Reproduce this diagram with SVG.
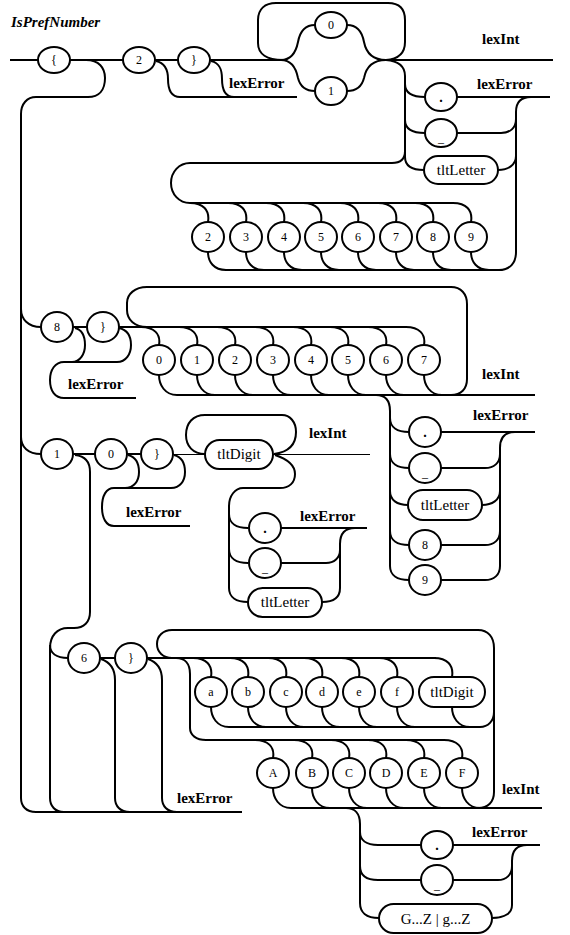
<svg xmlns="http://www.w3.org/2000/svg" width="570" height="935" viewBox="0 0 570 935">
<style>
.w{fill:none;stroke:#000;stroke-width:2}
.th{fill:none;stroke:#000;stroke-width:1}
.n ellipse,.n rect{fill:#fff;stroke:#000;stroke-width:2}
text{fill:#000}
.d{font-family:"Liberation Serif",serif;font-size:12px;text-anchor:middle}
.p{font-family:"Liberation Serif",serif;font-size:14px;font-weight:bold;text-anchor:middle}
.nt{font-family:"Liberation Serif",serif;font-size:15px;text-anchor:middle}
.lb{font-family:"Liberation Serif",serif;font-size:15px;font-weight:bold}
.ti{font-family:"Liberation Serif",serif;font-size:15px;font-weight:bold;font-style:italic}
</style>
<rect width="570" height="935" fill="#fff"/>
<text class="ti" x="11" y="27">IsPrefNumber</text>
<g id="connectors">
<path class="w" d="M10,60 H38 M70,60 H123 M155,60 H178 M210,60 H283"/>
<path class="w" d="M156,61 C165,63 168,70 168,79 C168,90 171,97 180,97 H297"/>
<path class="w" d="M211,61 C220,63 222,70 222,79 C222,90 225,97 234,97"/>
<path class="w" d="M86,60 C99,60 105,68 105,78 C105,90 99,97 88,97 H36 C27,97 21,104 21,114 V798 C21,806 26,812 36,812 H242"/>
<path class="w" d="M281,60 C292,60 296,52 298,42 C300,31 305,25 315,25"/>
<path class="w" d="M281,60 C292,60 296,68 298,78 C300,86 305,91 315,91"/>
<path class="w" d="M347,25 C357,25 362,31 364,42 C366,52 372,60 386,60"/>
<path class="w" d="M347,91 C357,91 362,86 364,78 C366,68 372,60 386,60"/>
<path class="w" d="M283,60 C267,60 258,54 258,43 V20 C258,9 265,3 276,3 H388 C399,3 405,9 405,20 V42 C405,53 399,59 386,60"/>
<path class="w" d="M386,60 H553"/>
<path class="w" d="M386,60 C398,61 405,66 405,76 V158 M405,151 C405,159 400,163 392,163 H190 C179,163 171,172 171,183 C171,194 179,203 190,203 H453"/>
<path class="w" d="M405,84 C405,92 411,97 425,97 M405,120 C405,128 411,133 425,133 M405,157 C405,165 411,170 424,170"/>
<path class="w" d="M457,97 H550"/>
<path class="w" d="M531,97 C521,97 516,102 516,112 V252 C516,263 510,270 499,270 H226"/>
<path class="w" d="M457,133 H501 C510,133 516,128 516,119 M498,170 C508,170 516,165 516,156"/>
<path class="w" d="M190,203 C203,203 210,210 208,222 M208,252 C208,262 214,270 226,270 M228,203 C241,203 248,210 246,222 M246,252 C246,262 252,270 264,270 M266,203 C279,203 286,210 284,222 M284,252 C284,262 290,270 302,270 M303,203 C316,203 323,210 321,222 M321,252 C321,262 327,270 339,270 M340,203 C353,203 360,210 358,222 M358,252 C358,262 364,270 376,270 M378,203 C391,203 398,210 396,222 M396,252 C396,262 402,270 414,270 M415,203 C428,203 435,210 433,222 M433,252 C433,262 439,270 451,270 M453,203 C466,203 473,210 471,222 M471,252 C471,262 477,270 489,270"/>
<path class="w" d="M21,309 C21,319 28,327 41,327 M73,327 H87"/>
<path class="w" d="M75,328 C83,330 85,337 85,345 C85,354 80,362 72,362"/>
<path class="w" d="M119,328 C128,330 131,337 131,345 C131,354 126,362 117,362 H64 C55,362 50,370 50,380 C50,391 55,398 64,398 H136"/>
<path class="w" d="M119,327 H406"/>
<path class="w" d="M147,327 C135,327 127,320 127,310 V303 C127,294 135,287 147,287 H451 C461,287 467,294 467,304 V379 C467,389 461,395 451,395"/>
<path class="w" d="M141,327 C154,327 161,334 159,345 M159,375 C159,385 165,395 177,395 M179,327 C192,327 199,334 197,345 M197,375 C197,385 203,395 215,395 M217,327 C230,327 237,334 235,345 M235,375 C235,385 241,395 253,395 M255,327 C268,327 275,334 273,345 M273,375 C273,385 279,395 291,395 M293,327 C306,327 313,334 311,345 M311,375 C311,385 317,395 329,395 M330,327 C343,327 350,334 348,345 M348,375 C348,385 354,395 366,395 M368,327 C381,327 388,334 386,345 M386,375 C386,385 392,395 404,395 M406,327 C419,327 426,334 424,345 M424,375 C424,385 430,395 442,395"/>
<path class="w" d="M177,395 H535"/>
<path class="w" d="M376,395 C386,395 390,401 390,411 V566"/>
<path class="w" d="M390,418 C390,427 397,432 409,432 M390,454 C390,463 397,468 409,468 M390,491 C390,500 397,505 408,505 M390,531 C390,540 397,545 409,545 M390,566 C390,575 397,580 409,580"/>
<path class="w" d="M441,432 H535"/>
<path class="w" d="M515,432 C505,432 500,438 500,448 V566 C500,575 494,580 485,580 H441"/>
<path class="w" d="M441,468 H485 C494,468 500,463 500,454 M482,505 C492,505 500,500 500,491 M441,545 H485 C494,545 500,540 500,531"/>
<path class="w" d="M21,437 C21,447 28,454 41,454 M73,454 H95 M127,454 H141"/>
<path class="w" d="M75,455 C85,456 90,462 90,472 V612 C90,622 84,628 74,628 H68 C57,628 50,636 50,648 V798 C50,806 55,812 64,812"/>
<path class="w" d="M50,645 C50,653 56,658 68,658"/>
<path class="w" d="M128,455 C136,457 139,464 139,472 C139,481 134,488 125,488"/>
<path class="w" d="M174,455 C182,457 185,464 185,472 C185,481 180,488 171,488 H114 C106,488 102,496 102,507 C102,518 106,526 114,526 H190"/>
<path class="th" d="M173,454.5 H205"/>
<path class="w" d="M205,454 C193,454 186,446 186,435 C186,423 193,415 205,415 H282 C290,415 296,422 296,432 C296,444 289,452 274,454"/>
<path class="th" d="M273,454.5 H370"/>
<path class="w" d="M275,455 C287,459 295,465 295,474 C295,483 289,488 280,488 H243 C235,488 229,496 229,506 V588"/>
<path class="w" d="M229,514 C229,523 236,528 248,528 M229,549 C229,558 236,563 248,563 M229,588 C229,597 236,602 248,602"/>
<path class="w" d="M281,528 H367"/>
<path class="w" d="M355,528 C345,528 340,534 340,544 V588 C340,597 334,602 322,602"/>
<path class="w" d="M281,563 H326 C334,563 340,558 340,550"/>
<path class="w" d="M100,658 H115"/>
<path class="w" d="M101,659 C110,662 115,669 115,680 V798 C115,806 120,812 130,812"/>
<path class="w" d="M148,659 C157,662 162,669 162,680 V798 C162,806 167,812 177,812"/>
<path class="w" d="M147,658 H436"/>
<path class="w" d="M172,658 C163,658 157,652 157,644 C157,636 163,630 172,630 H478 C488,630 494,637 494,648 V792 C494,802 488,808 478,808"/>
<path class="w" d="M176,658 C185,658 190,664 190,674 V728 C190,735 196,740 206,740 H444"/>
<path class="w" d="M193,658 C206,658 213,665 211,677 M211,707 C211,717 217,727 229,727 M230,658 C243,658 250,665 248,677 M248,707 C248,717 254,727 266,727 M268,658 C281,658 288,665 286,677 M286,707 C286,717 292,727 304,727 M304,658 C317,658 324,665 322,677 M322,707 C322,717 328,727 340,727 M341,658 C354,658 361,665 359,677 M359,707 C359,717 365,727 377,727 M379,658 C392,658 399,665 397,677 M397,707 C397,717 403,727 415,727 M434,658 C447,658 454,665 452,677 M452,707 C452,717 458,727 470,727"/>
<path class="w" d="M229,727 H480 C488,727 494,721 494,712"/>
<path class="w" d="M255,740 C268,740 275,747 273,758 M273,788 C273,798 279,808 291,808 M294,740 C307,740 314,747 312,758 M312,788 C312,798 318,808 330,808 M331,740 C344,740 351,747 349,758 M349,788 C349,798 355,808 367,808 M368,740 C381,740 388,747 386,758 M386,788 C386,798 392,808 404,808 M406,740 C419,740 426,747 424,758 M424,788 C424,798 430,808 442,808 M444,740 C457,740 464,747 462,758 M462,788 C462,798 468,808 480,808"/>
<path class="w" d="M291,808 H542"/>
<path class="w" d="M346,808 C355,808 360,814 360,824 V903"/>
<path class="w" d="M360,832 C360,840 366,845 378,845 H421 M360,866 C360,875 366,880 378,880 H421 M360,903 C360,912 366,918 379,918"/>
<path class="w" d="M453,845 H540"/>
<path class="w" d="M527,845 C517,845 512,851 512,861 V905 C512,913 505,918 492,918"/>
<path class="w" d="M453,880 H498 C506,880 512,875 512,866"/>
</g>
<g id="labels">
<text class="lb" x="229" y="88">lexError</text>
<text class="lb" x="482" y="44">lexInt</text>
<text class="lb" x="477" y="89">lexError</text>
<text class="lb" x="68" y="389">lexError</text>
<text class="lb" x="482" y="379">lexInt</text>
<text class="lb" x="473" y="420">lexError</text>
<text class="lb" x="126" y="517">lexError</text>
<text class="lb" x="309" y="438">lexInt</text>
<text class="lb" x="300" y="521">lexError</text>
<text class="lb" x="177" y="803">lexError</text>
<text class="lb" x="502" y="794">lexInt</text>
<text class="lb" x="472" y="837">lexError</text>
</g>
<g id="n_open" class="n"><ellipse cx="54" cy="60" rx="16" ry="13"/><text class="d" x="54" y="64">{</text></g>
<g id="n_2a" class="n"><ellipse cx="139" cy="60" rx="16" ry="13"/><text class="d" x="139" y="64">2</text></g>
<g id="n_close1" class="n"><ellipse cx="194" cy="60" rx="16" ry="13"/><text class="d" x="194" y="64">}</text></g>
<g id="n_b0" class="n"><ellipse cx="331" cy="25" rx="16" ry="13"/><text class="d" x="331" y="29">0</text></g>
<g id="n_b1" class="n"><ellipse cx="331" cy="91" rx="16" ry="14"/><text class="d" x="331" y="95">1</text></g>
<g id="n_dot1" class="n"><ellipse cx="441" cy="97" rx="16" ry="14"/><text class="p" x="441" y="102">.</text></g>
<g id="n_us1" class="n"><ellipse cx="441" cy="133" rx="16" ry="14"/><text class="d" x="441" y="142">_</text></g>
<g id="n_let1" class="n"><rect x="424" y="156" width="74" height="28" rx="14"/><text class="nt" x="461" y="175">tltLetter</text></g>
<g id="n_d2" class="n"><ellipse cx="208" cy="237" rx="16" ry="15"/><text class="d" x="208" y="241">2</text></g>
<g id="n_d3" class="n"><ellipse cx="246" cy="237" rx="16" ry="15"/><text class="d" x="246" y="241">3</text></g>
<g id="n_d4" class="n"><ellipse cx="284" cy="237" rx="16" ry="15"/><text class="d" x="284" y="241">4</text></g>
<g id="n_d5" class="n"><ellipse cx="321" cy="237" rx="16" ry="15"/><text class="d" x="321" y="241">5</text></g>
<g id="n_d6" class="n"><ellipse cx="358" cy="237" rx="16" ry="15"/><text class="d" x="358" y="241">6</text></g>
<g id="n_d7" class="n"><ellipse cx="396" cy="237" rx="16" ry="15"/><text class="d" x="396" y="241">7</text></g>
<g id="n_d8" class="n"><ellipse cx="433" cy="237" rx="16" ry="15"/><text class="d" x="433" y="241">8</text></g>
<g id="n_d9" class="n"><ellipse cx="471" cy="237" rx="16" ry="15"/><text class="d" x="471" y="241">9</text></g>
<g id="n_8" class="n"><ellipse cx="57" cy="327" rx="16" ry="15"/><text class="d" x="57" y="331">8</text></g>
<g id="n_close8" class="n"><ellipse cx="103" cy="327" rx="16" ry="15"/><text class="d" x="103" y="331">}</text></g>
<g id="n_o0" class="n"><ellipse cx="159" cy="360" rx="16" ry="15"/><text class="d" x="159" y="364">0</text></g>
<g id="n_o1" class="n"><ellipse cx="197" cy="360" rx="16" ry="15"/><text class="d" x="197" y="364">1</text></g>
<g id="n_o2" class="n"><ellipse cx="235" cy="360" rx="16" ry="15"/><text class="d" x="235" y="364">2</text></g>
<g id="n_o3" class="n"><ellipse cx="273" cy="360" rx="16" ry="15"/><text class="d" x="273" y="364">3</text></g>
<g id="n_o4" class="n"><ellipse cx="311" cy="360" rx="16" ry="15"/><text class="d" x="311" y="364">4</text></g>
<g id="n_o5" class="n"><ellipse cx="348" cy="360" rx="16" ry="15"/><text class="d" x="348" y="364">5</text></g>
<g id="n_o6" class="n"><ellipse cx="386" cy="360" rx="16" ry="15"/><text class="d" x="386" y="364">6</text></g>
<g id="n_o7" class="n"><ellipse cx="424" cy="360" rx="16" ry="15"/><text class="d" x="424" y="364">7</text></g>
<g id="n_dot2" class="n"><ellipse cx="425" cy="432" rx="16" ry="15"/><text class="p" x="425" y="437">.</text></g>
<g id="n_us2" class="n"><ellipse cx="425" cy="468" rx="16" ry="15"/><text class="d" x="425" y="477">_</text></g>
<g id="n_let2" class="n"><rect x="408" y="490" width="74" height="30" rx="15"/><text class="nt" x="445" y="510">tltLetter</text></g>
<g id="n_e8" class="n"><ellipse cx="425" cy="545" rx="16" ry="15"/><text class="d" x="425" y="549">8</text></g>
<g id="n_e9" class="n"><ellipse cx="425" cy="580" rx="16" ry="15"/><text class="d" x="425" y="584">9</text></g>
<g id="n_1" class="n"><ellipse cx="57" cy="454" rx="16" ry="15"/><text class="d" x="57" y="458">1</text></g>
<g id="n_10" class="n"><ellipse cx="111" cy="454" rx="16" ry="15"/><text class="d" x="111" y="458">0</text></g>
<g id="n_close10" class="n"><ellipse cx="157" cy="454" rx="16" ry="15"/><text class="d" x="157" y="458">}</text></g>
<g id="n_digit10" class="n"><rect x="205" y="440" width="68" height="29" rx="14.5"/><text class="nt" x="239" y="459">tltDigit</text></g>
<g id="n_dot3" class="n"><ellipse cx="265" cy="528" rx="16" ry="15"/><text class="p" x="265" y="533">.</text></g>
<g id="n_us3" class="n"><ellipse cx="265" cy="563" rx="16" ry="15"/><text class="d" x="265" y="572">_</text></g>
<g id="n_let3" class="n"><rect x="248" y="588" width="74" height="29" rx="14.5"/><text class="nt" x="285" y="607">tltLetter</text></g>
<g id="n_6" class="n"><ellipse cx="84" cy="658" rx="16" ry="15"/><text class="d" x="84" y="662">6</text></g>
<g id="n_close16" class="n"><ellipse cx="131" cy="658" rx="16" ry="15"/><text class="d" x="131" y="662">}</text></g>
<g id="n_ha" class="n"><ellipse cx="211" cy="692" rx="16" ry="15"/><text class="d" x="211" y="696">a</text></g>
<g id="n_hb" class="n"><ellipse cx="248" cy="692" rx="16" ry="15"/><text class="d" x="248" y="696">b</text></g>
<g id="n_hc" class="n"><ellipse cx="286" cy="692" rx="16" ry="15"/><text class="d" x="286" y="696">c</text></g>
<g id="n_hd" class="n"><ellipse cx="322" cy="692" rx="16" ry="15"/><text class="d" x="322" y="696">d</text></g>
<g id="n_he" class="n"><ellipse cx="359" cy="692" rx="16" ry="15"/><text class="d" x="359" y="696">e</text></g>
<g id="n_hf" class="n"><ellipse cx="397" cy="692" rx="16" ry="15"/><text class="d" x="397" y="696">f</text></g>
<g id="n_hdigit" class="n"><rect x="419" y="677" width="66" height="30" rx="15"/><text class="nt" x="452" y="697">tltDigit</text></g>
<g id="n_hA" class="n"><ellipse cx="273" cy="773" rx="16" ry="15"/><text class="d" x="273" y="777">A</text></g>
<g id="n_hB" class="n"><ellipse cx="312" cy="773" rx="16" ry="15"/><text class="d" x="312" y="777">B</text></g>
<g id="n_hC" class="n"><ellipse cx="349" cy="773" rx="16" ry="15"/><text class="d" x="349" y="777">C</text></g>
<g id="n_hD" class="n"><ellipse cx="386" cy="773" rx="16" ry="15"/><text class="d" x="386" y="777">D</text></g>
<g id="n_hE" class="n"><ellipse cx="424" cy="773" rx="16" ry="15"/><text class="d" x="424" y="777">E</text></g>
<g id="n_hF" class="n"><ellipse cx="462" cy="773" rx="16" ry="15"/><text class="d" x="462" y="777">F</text></g>
<g id="n_dot4" class="n"><ellipse cx="437" cy="845" rx="16" ry="14"/><text class="p" x="437" y="850">.</text></g>
<g id="n_us4" class="n"><ellipse cx="437" cy="880" rx="16" ry="15"/><text class="d" x="437" y="889">_</text></g>
<g id="n_gz" class="n"><rect x="379" y="904" width="113" height="29" rx="14.5"/><text class="nt" x="435.5" y="924">G...Z | g...Z</text></g>
</svg>
